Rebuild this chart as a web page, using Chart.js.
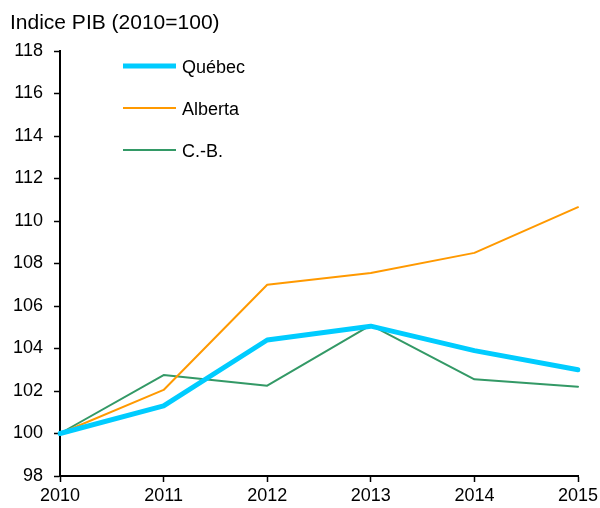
<!DOCTYPE html>
<html>
<head>
<meta charset="utf-8">
<script src="https://cdn.jsdelivr.net/npm/chart.js@4"></script>
<style>
  html, body { margin: 0; padding: 0; background: #fff; }
  #wrap { width: 600px; height: 508px; }
</style>
</head>
<body>
<div id="wrap"><canvas id="pib-chart" width="600" height="508"></canvas></div>
<script>
const years = ["2010", "2011", "2012", "2013", "2014", "2015"];
const quebec = [100, 101.3, 104.4, 105.05, 103.9, 103.0];
const alberta = [100, 102.05, 107.0, 107.55, 108.5, 110.65];
const cb = [100, 102.75, 102.25, 105.1, 102.55, 102.2];
const yTicks = [98, 100, 102, 104, 106, 108, 110, 112, 114, 116, 118];

const font = "'Liberation Sans', Arial, sans-serif";

// title + legend drawn inside the plot like the original
const overlay = {
  id: "overlay",
  afterDraw(chart) {
    const ctx = chart.ctx;
    ctx.save();
    ctx.fillStyle = "#000";
    ctx.font = "21px " + font;
    ctx.textBaseline = "alphabetic";
    ctx.fillText("Indice PIB (2010=100)", 10, 28.5);

    ctx.font = "18px " + font;
    chart.data.datasets.forEach((ds, i) => {
      let y = 66 + i * 42;
      ctx.strokeStyle = ds.borderColor;
      ctx.lineWidth = ds.borderWidth;
      ctx.lineCap = "butt";
      ctx.beginPath();
      ctx.moveTo(123, y);
      ctx.lineTo(176, y);
      ctx.stroke();
      ctx.fillStyle = "#000";
      ctx.fillText(ds.label, 182, y + 6.5);
    });
    ctx.restore();
  }
};

const ctx = document.getElementById("pib-chart").getContext("2d");
const chart = new Chart(ctx, {
  type: "line",
  data: {
    labels: years,
    datasets: [
      { label: "Québec", data: quebec, borderColor: "#00ccff", borderWidth: 5 },
      { label: "Alberta", data: alberta, borderColor: "#ff9900", borderWidth: 2 },
      { label: "C.-B.", data: cb, borderColor: "#339966", borderWidth: 2 }
    ]
  },
  options: {
    responsive: false,
    animation: false,
    layout: { padding: { top: 51, right: 22, left: 0, bottom: 0 } },
    elements: {
      point: { radius: 0, hoverRadius: 0 },
      line: { tension: 0, borderJoinStyle: "round", borderCapStyle: "round" }
    },
    plugins: {
      legend: { display: false },
      title: { display: false },
      tooltip: { enabled: false }
    },
    scales: {
      x: {
        offset: false,
        afterFit: (s) => { s.height = 32; s.paddingRight = 0; },
        grid: { drawOnChartArea: false, drawTicks: true, tickLength: 6, tickColor: "#000", tickWidth: 1.5 },
        border: { color: "#000", width: 2 },
        ticks: { color: "#000", font: { family: font, size: 18 }, padding: 3, maxRotation: 0 }
      },
      y: {
        min: 98,
        max: 118,
        afterFit: (s) => { s.width = 60; },
        afterBuildTicks: (s) => { s.ticks = yTicks.map(v => ({ value: v })); },
        grid: { drawOnChartArea: false, drawTicks: true, tickLength: 6, tickColor: "#000", tickWidth: 1.5 },
        border: { color: "#000", width: 2 },
        ticks: { color: "#000", font: { family: font, size: 18 }, padding: 11 }
      }
    }
  },
  plugins: [overlay]
});
</script>
</body>
</html>
